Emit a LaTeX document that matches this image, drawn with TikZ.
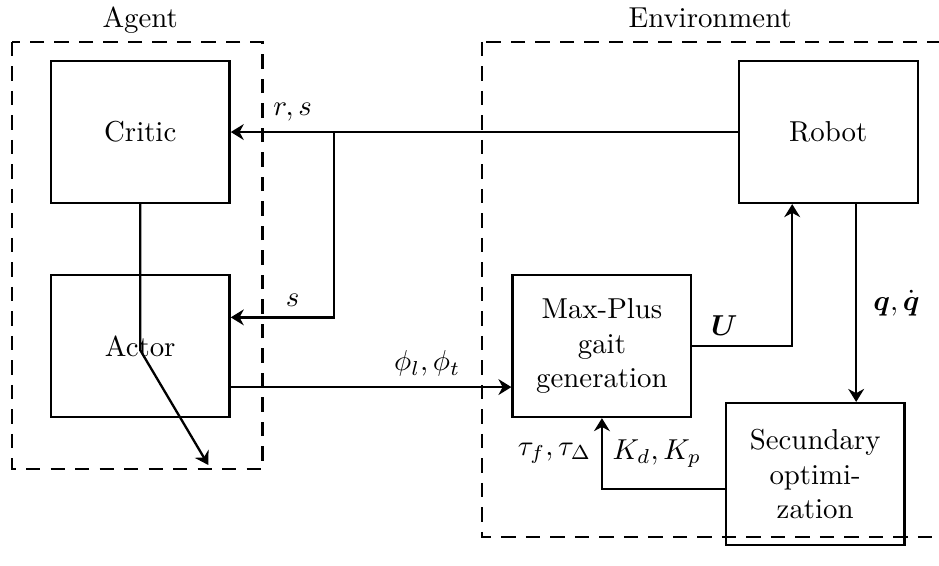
\documentclass[tikz,border=0pt]{standalone}
\usepackage{amsmath, amssymb}
\usetikzlibrary{arrows.meta}

\begin{document}
\begin{tikzpicture}[
    block/.style={draw, thick, minimum width=2.18cm, minimum height=1.73cm, align=center},
    groupbox/.style={thick, dash pattern=on 5pt off 3.5pt},
    link/.style={thick, -{Stealth[length=4.5pt,width=5.5pt]}}]
  \useasboundingbox (0,0) rectangle (11.45,-6.90);
  % agent and environment
  \draw[groupbox] (0.15,-0.51) rectangle (3.20,-5.72);
  \node (agentlabel) at (1.71,-0.24) {Agent};
  \draw[groupbox] (5.88,-0.51) rectangle (12.5,-6.55);
  \node (envlabel) at (8.66,-0.22) {Environment};
  % blocks
  \node[block] (critic) at (1.71,-1.61) {Critic};
  \node[block] (actor) at (1.71,-4.22) {Actor};
  \node[block] (robot) at (10.10,-1.61) {Robot};
  \node[block] (maxplus) at (7.34,-4.22) {Max-Plus\\gait\\generation};
  \node[block] (secopt) at (9.94,-5.78) {Secundary\\optimi-\\zation};
  % state and reward
  \coordinate (split) at (4.07,-1.61);
  \draw[link] (robot.west) -- (split) -- node[pos=0.4, above] (lrs) {$r,s$} (critic.east);
  \draw[link] (split) |- node[pos=0.7, above] (ls) {$s$} ([yshift=0.35cm]actor.east);
  % actions and gait
  \draw[link] ([yshift=-0.5cm]actor.east) -- node[pos=0.7, above] (lphi) {$\phi_l,\phi_t$} ([yshift=-0.5cm]maxplus.west);
  \draw[link] (maxplus.east) -| node[pos=0.16, above] (lu) {$\boldsymbol{U}$} ([xshift=-0.44cm]robot.south);
  \draw[link] ([xshift=0.34cm]robot.south) coordinate (qtop) -- node[right, xshift=0.08cm] (lq) {$\boldsymbol{q},\dot{\boldsymbol{q}}$} (qtop |- secopt.north);
  \draw[link] ([yshift=-0.18cm]secopt.west) -| node[pos=0.75, left] (ltau) {$\tau_f,\tau_\Delta$}
    node[pos=0.75, right] (lk) {$K_d,K_p$} (maxplus.south);
  % critic to actor
  \coordinate (bend) at (1.71,-4.27);
  \coordinate (tip) at (2.54,-5.67);
  \draw[link] (critic.south) -- (bend) -- (tip);
\end{tikzpicture}
\end{document}
